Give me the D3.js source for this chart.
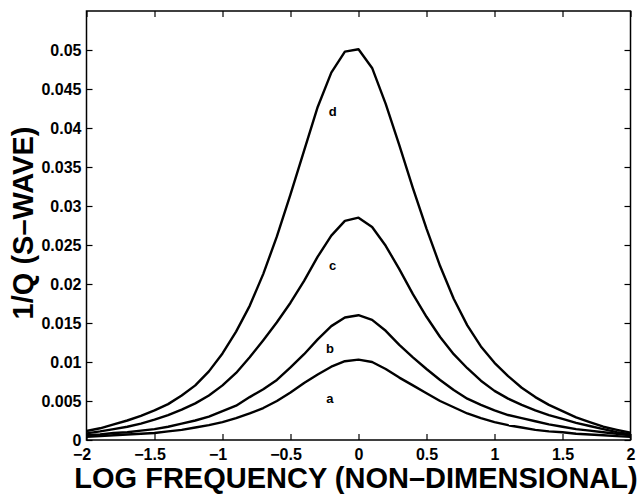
<!DOCTYPE html>
<html>
<head>
<meta charset="utf-8">
<script src="https://d3js.org/d3.v7.min.js"></script>
<style>
  body { margin: 0; background: #fff; }
  text { font-family: "Liberation Sans", Arial, Helvetica, sans-serif; font-weight: bold; fill: #000; }
</style>
</head>
<body>
<script>
//Attenuation peaks (1/Q, S-wave) against non-dimensional log frequency

//Global sizes
var W = 644;
var H = 495;
var Left = 86.5, Right = 630.5, Top = 11, Bottom = 440;

var logFreq = [-2, -1.9, -1.8, -1.7, -1.6, -1.5, -1.4, -1.3, -1.2, -1.1, -1,
  -0.9, -0.8, -0.7, -0.6, -0.5, -0.4, -0.3, -0.2, -0.1, 0,
  0.1, 0.2, 0.3, 0.4, 0.5, 0.6, 0.7, 0.8, 0.9, 1,
  1.1, 1.2, 1.3, 1.4, 1.5, 1.6, 1.7, 1.8, 1.9, 2];

var curveA = [0.0004, 0.0005, 0.0006, 0.0007, 0.0008, 0.0009, 0.0011, 0.0013, 0.0016, 0.0019, 0.0023,
  0.0028, 0.0034, 0.0041, 0.0050, 0.0061, 0.0073, 0.0084, 0.0094, 0.0101, 0.0103,
  0.0100, 0.0091, 0.0080, 0.0070, 0.0060, 0.0050, 0.0042, 0.0034, 0.0028, 0.0023,
  0.0019, 0.0016, 0.0013, 0.0011, 0.0010, 0.0008, 0.0007, 0.0006, 0.0005, 0.0004];

var curveB = [0.0006, 0.0007, 0.0009, 0.0010, 0.0012, 0.0014, 0.0017, 0.0021, 0.0025, 0.0030, 0.0037,
  0.0044, 0.0055, 0.0065, 0.0077, 0.0093, 0.0110, 0.0129, 0.0146, 0.0157, 0.0160,
  0.0154, 0.0140, 0.0122, 0.0106, 0.0091, 0.0077, 0.0064, 0.0053, 0.0045, 0.0038,
  0.0032, 0.0028, 0.0024, 0.0020, 0.0017, 0.0014, 0.0012, 0.0010, 0.0008, 0.0006];

var curveC = [0.00085, 0.0011, 0.0014, 0.0017, 0.0021, 0.0026, 0.0032, 0.0039, 0.0047, 0.0057, 0.0070,
  0.0086, 0.0106, 0.0128, 0.0151, 0.0176, 0.0204, 0.0235, 0.0262, 0.0281, 0.0285,
  0.0273, 0.0249, 0.0219, 0.0187, 0.0158, 0.0132, 0.0110, 0.0092, 0.0076, 0.0063,
  0.0053, 0.0045, 0.0038, 0.0032, 0.0027, 0.0022, 0.0018, 0.0014, 0.0010, 0.00075];

var curveD = [0.00115, 0.0015, 0.0020, 0.0025, 0.0031, 0.0038, 0.0046, 0.0057, 0.0070, 0.0088, 0.0111,
  0.0139, 0.0172, 0.0213, 0.0261, 0.0315, 0.0371, 0.0427, 0.0471, 0.0498, 0.0501,
  0.0477, 0.0431, 0.0378, 0.0323, 0.0271, 0.0223, 0.0181, 0.0147, 0.0120, 0.0099,
  0.0082, 0.0067, 0.0055, 0.0045, 0.0037, 0.0029, 0.0023, 0.0017, 0.0013, 0.00094];

var curveNames = ["a", "b", "c", "d"];
var labelX = [-0.21, -0.21, -0.19, -0.19];
var labelY = [0.0053, 0.0117, 0.0224, 0.0421];

var xTicks = [-2, -1.5, -1, -0.5, 0, 0.5, 1, 1.5, 2];
var yTicks = [0, 0.005, 0.01, 0.015, 0.02, 0.025, 0.03, 0.035, 0.04, 0.045, 0.05];

function main() {
  var svg = d3.select("body").append("svg")
    .attr("width", W)
    .attr("height", H);

  var xScale = d3.scaleLinear().domain([-2, 2]).range([Left, Right]);
  var yScale = d3.scaleLinear().domain([0, 0.055]).range([Bottom, Top]);

  drawAxes(svg, xScale, yScale);
  drawCurves(svg, xScale, yScale);

  //Axis titles
  svg.append("text")
    .attr("x", 356)
    .attr("y", 488)
    .attr("text-anchor", "middle")
    .style("font-size", "29px")
    .text("LOG FREQUENCY (NON\u2013DIMENSIONAL)");

  svg.append("text")
    .attr("transform", "translate(33," + 223 + ") rotate(-90)")
    .attr("text-anchor", "middle")
    .style("font-size", "29px")
    .text("1/Q (S\u2013WAVE)");
}

function drawAxes(svg, xScale, yScale) {
  //Matlab style box with inward ticks on all four sides
  var fmt = function(d) { return d < 0 ? "\u2212" + Math.abs(d) : String(d); };

  var xb = svg.append("g").attr("transform", "translate(0," + Bottom + ")")
    .call(d3.axisBottom(xScale).tickValues(xTicks).tickSizeInner(-6).tickSizeOuter(0).tickPadding(9).tickFormat(fmt));
  var xt = svg.append("g").attr("transform", "translate(0," + Top + ")")
    .call(d3.axisTop(xScale).tickValues(xTicks).tickSizeInner(-6).tickSizeOuter(0).tickFormat(""));
  var yl = svg.append("g").attr("transform", "translate(" + Left + ",0)")
    .call(d3.axisLeft(yScale).tickValues(yTicks).tickSizeInner(-6).tickSizeOuter(0).tickPadding(5).tickFormat(function(d) { return d3.format("")(+d.toFixed(3)); }));
  var yr = svg.append("g").attr("transform", "translate(" + Right + ",0)")
    .call(d3.axisRight(yScale).tickValues(yTicks).tickSizeInner(-6).tickSizeOuter(0).tickFormat(""));

  [xb, xt, yl, yr].forEach(function(g) {
    g.select(".domain").remove();
    g.selectAll(".tick line").attr("stroke", "#000").attr("stroke-width", 1.2);
  });

  xb.selectAll(".tick text")
    .style("font-size", "16px")
    .attr("dy", "0.71em")
    .attr("dx", function(d) { return d < 0 ? -5 : 0; });
  yl.selectAll(".tick text")
    .style("font-size", "16px");

  svg.append("rect")
    .attr("x", Left)
    .attr("y", Top)
    .attr("width", Right - Left)
    .attr("height", Bottom - Top)
    .attr("fill", "none")
    .attr("stroke", "#000")
    .attr("stroke-width", 1.5);
}

function drawCurves(svg, xScale, yScale) {
  //Four attenuation curves and their letter labels
  var series = [curveA, curveB, curveC, curveD];
  var line = d3.line()
    .x(function(d, i) { return xScale(logFreq[i]); })
    .y(function(d) { return yScale(d); });

  svg.selectAll("path.curve")
    .data(series)
    .enter()
    .append("path")
    .attr("class", "curve")
    .attr("d", line)
    .attr("fill", "none")
    .attr("stroke", "#000")
    .attr("stroke-width", 2.4)
    .attr("stroke-linejoin", "round");

  svg.selectAll("text.lbl")
    .data(curveNames)
    .enter()
    .append("text")
    .attr("class", "lbl")
    .attr("x", function(d, i) { return xScale(labelX[i]); })
    .attr("y", function(d, i) { return yScale(labelY[i]); })
    .attr("text-anchor", "middle")
    .attr("dy", "0.35em")
    .style("font-size", "13px")
    .text(function(d) { return d; });
}

main();
</script>
</body>
</html>
